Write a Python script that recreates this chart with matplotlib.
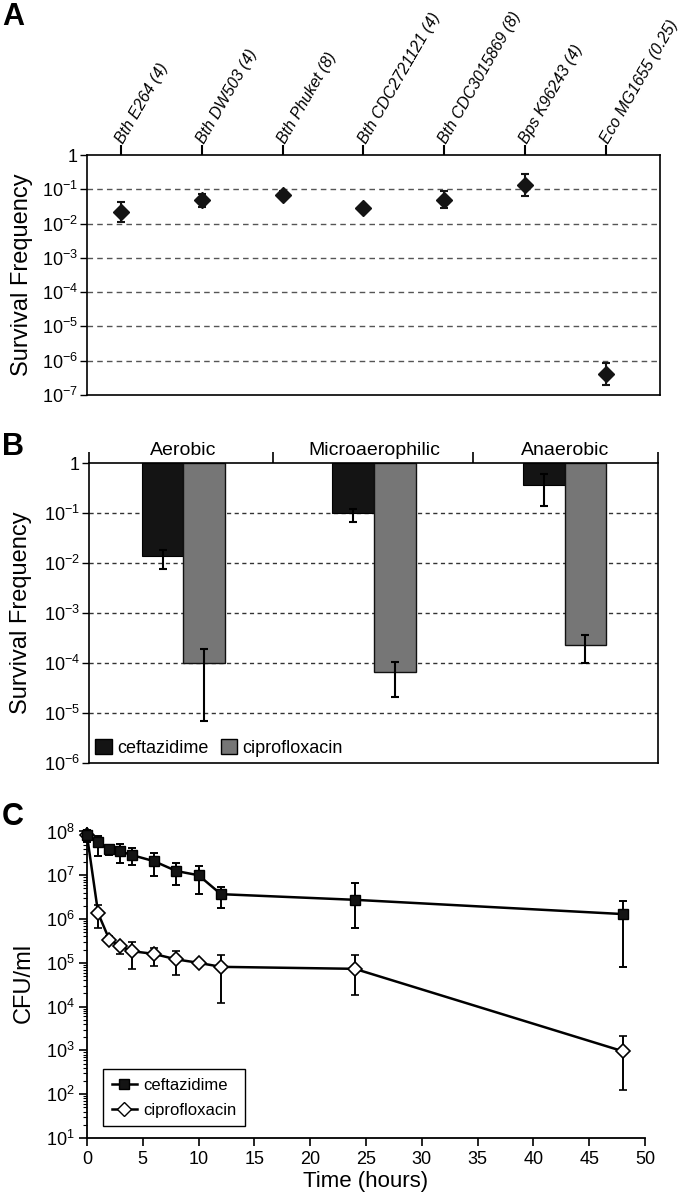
import matplotlib
matplotlib.use('Agg')
import matplotlib.pyplot as plt
import numpy as np
from matplotlib.patches import Patch
from matplotlib.lines import Line2D
from matplotlib.ticker import NullLocator, LogLocator
from matplotlib import font_manager as fm


def has_font(name):
    try:
        fm.findfont(fm.FontProperties(family=name), fallback_to_default=False)
        return True
    except Exception:
        return False


BASE = 'Liberation Sans' if has_font('Liberation Sans') else 'DejaVu Sans'
NARROW = 'Liberation Sans Narrow' if has_font('Liberation Sans Narrow') else None
plt.rcParams['font.family'] = [BASE, 'DejaVu Sans']
plt.rcParams['mathtext.fontset'] = 'custom'
plt.rcParams['mathtext.rm'] = BASE
plt.rcParams['mathtext.it'] = BASE + ':italic'
plt.rcParams['mathtext.bf'] = BASE + ':bold'

# ---------------- Panel A data ----------------
strains = ['Bth E264 (4)', 'Bth DW503 (4)', 'Bth Phuket (8)', 'Bth CDC2721121 (4)',
           'Bth CDC3015869 (8)', 'Bps K96243 (4)', 'Eco MG1655 (0.25)']
surv_mean = [0.022, 0.049, 0.070, 0.028, 0.049, 0.137, 4.1e-7]
surv_low = [0.011, 0.031, 0.056, 0.025, 0.028, 0.063, 1.96e-7]
surv_high = [0.044, 0.073, 0.091, 0.032, 0.087, 0.28, 8.5e-7]
a_ticklabels = ['1', r'$10^{-1}$', r'$10^{-2}$', r'$10^{-3}$', r'$10^{-4}$',
                r'$10^{-5}$', r'$10^{-6}$', r'$10^{-7}$']

# ---------------- Panel B data ----------------
conditions = ['Aerobic', 'Microaerophilic', 'Anaerobic']
caz_surv = [0.0135, 0.10, 0.37]
caz_low = [0.0077, 0.065, 0.14]
caz_high = [0.0186, 0.12, 0.61]
cip_surv = [1.0e-4, 6.5e-5, 2.3e-4]
cip_low = [7.0e-6, 2.1e-5, 1.0e-4]
cip_high = [1.9e-4, 1.03e-4, 3.6e-4]
b_ticklabels = ['1', r'$10^{-1}$', r'$10^{-2}$', r'$10^{-3}$', r'$10^{-4}$',
                r'$10^{-5}$', r'$10^{-6}$']

# ---------------- Panel C data ----------------
time_h = [0, 1, 2, 3, 4, 6, 8, 10, 12, 24, 48]
caz_cfu = [8.1e7, 5.6e7, 4.0e7, 3.5e7, 2.9e7, 2.1e7, 1.25e7, 1.0e7, 3.7e6, 2.75e6, 1.3e6]
caz_cfu_low = [5.6e7, 2.7e7, 2.9e7, 1.9e7, 1.75e7, 9.8e6, 5.9e6, 3.8e6, 1.8e6, 6.3e5, 8.0e4]
caz_cfu_high = [1.1e8, 7.8e7, 5.0e7, 5.3e7, 4.1e7, 3.2e7, 1.95e7, 1.6e7, 5.3e6, 6.6e6, 2.6e6]
cip_cfu = [8.1e7, 1.35e6, 3.4e5, 2.4e5, 1.85e5, 1.6e5, 1.2e5, 1.0e5, 8.1e4, 7.3e4, 9.6e2]
cip_cfu_low = [8.1e7, 6.1e5, 2.9e5, 1.6e5, 7.4e4, 8.4e4, 5.2e4, 8.5e4, 1.2e4, 1.8e4, 1.25e2]
cip_cfu_high = [8.1e7, 2.1e6, 4.0e5, 2.9e5, 3.0e5, 2.2e5, 1.9e5, 1.15e5, 1.5e5, 1.5e5, 2.1e3]
c_ticks = [1e1, 1e2, 1e3, 1e4, 1e5, 1e6, 1e7, 1e8]
c_ticklabels = [r'$10^{1}$', r'$10^{2}$', r'$10^{3}$', r'$10^{4}$', r'$10^{5}$',
                r'$10^{6}$', r'$10^{7}$', r'$10^{8}$']
x_ticks_c = [0, 5, 10, 15, 20, 25, 30, 35, 40, 45, 50]

BLACK = '#141414'
GRAY = '#767676'

fig = plt.figure(figsize=(6.8, 11.98), dpi=100)
H = 1198.0
W = 680.0

# ================= Panel A =================
axA = fig.add_axes([87 / W, 1 - 395 / H, (660 - 87) / W, (395 - 155) / H])
axA.set_yscale('log')
axA.set_ylim(1e-7, 1)
axA.set_xlim(-0.42, 6.67)
xa = np.arange(len(strains))
m = np.array(surv_mean)
yerrA = [m - np.array(surv_low), np.array(surv_high) - m]
for v in [1e-1, 1e-2, 1e-3, 1e-4, 1e-5, 1e-6]:
    axA.axhline(v, color='#555555', ls=(0, (4, 3)), lw=1.0, zorder=1)
axA.errorbar(xa, surv_mean, yerr=yerrA, fmt='D', color=BLACK, ms=8, capsize=3,
             elinewidth=1.5, capthick=1.5, zorder=3)
axA.set_yticks([10.0 ** (-k) for k in range(8)])
axA.set_yticklabels(a_ticklabels)
axA.yaxis.set_minor_locator(NullLocator())
axA.xaxis.tick_top()
axA.set_xticks(xa)
axA.set_xticklabels([])
axA.tick_params(axis='x', which='both', direction='out', length=7, width=1.5,
                top=True, bottom=False)
axA.tick_params(axis='y', direction='out', length=5, width=1.0, labelsize=13, pad=1.5)
for s in axA.spines.values():
    s.set_linewidth(1.2)
if NARROW:
    lab_kw = dict(family=[NARROW, BASE], fontsize=14, style='italic')
else:
    lab_kw = dict(fontsize=11.5, style='italic')
for i, s in enumerate(strains):
    axA.annotate(s, xy=(i, 1), xycoords=('data', 'axes fraction'), xytext=(-1, 9.5),
                 textcoords='offset points', rotation=60, rotation_mode='anchor',
                 ha='left', va='center', **lab_kw)
axA.set_ylabel('Survival Frequency', fontsize=17)
axA.yaxis.set_label_coords(-0.094, 0.5)

# ================= Panel B =================
axB = fig.add_axes([89 / W, 1 - 763 / H, (658 - 89) / W, (763 - 463) / H])
axB.set_yscale('log')
axB.set_ylim(1e-6, 1)
axB.set_xlim(-0.495, 2.49)
xb = np.arange(len(conditions))
wb = 0.218
for v in [1e-1, 1e-2, 1e-3, 1e-4, 1e-5]:
    axB.axhline(v, color='#333333', ls=(0, (3, 2.5)), lw=1.0, zorder=1)
caz = np.array(caz_surv)
cip = np.array(cip_surv)
axB.bar(xb - wb / 2, 1 - caz, bottom=caz, width=wb, color=BLACK, edgecolor='#000000',
        lw=0.8, zorder=2)
axB.bar(xb + wb / 2, 1 - cip, bottom=cip, width=wb, color=GRAY, edgecolor='#111111',
        lw=1.0, zorder=2)
axB.errorbar(xb - wb / 2, caz, yerr=[caz - np.array(caz_low), np.array(caz_high) - caz],
             fmt='none', ecolor='black', capsize=3, elinewidth=1.5, capthick=1.5, zorder=3)
axB.errorbar(xb + wb / 2, cip, yerr=[cip - np.array(cip_low), np.array(cip_high) - cip],
             fmt='none', ecolor='black', capsize=3, elinewidth=1.5, capthick=1.5, zorder=3)
axB.set_yticks([10.0 ** (-k) for k in range(7)])
axB.set_yticklabels(b_ticklabels)
axB.yaxis.set_minor_locator(NullLocator())
axB.xaxis.tick_top()
axB.set_xticks([-0.495, 0.47, 1.52, 2.49])
axB.set_xticklabels([])
axB.tick_params(axis='x', direction='out', length=8, width=1.2, top=True, bottom=False)
axB.tick_params(axis='y', direction='out', length=5, width=1.0, labelsize=13, pad=1.5)
for s in axB.spines.values():
    s.set_linewidth(1.2)
for i, c in enumerate(conditions):
    axB.annotate(c, xy=(i, 1), xycoords=('data', 'axes fraction'), xytext=(0, 6),
                 textcoords='offset points', ha='center', va='baseline', fontsize=14)
axB.set_ylabel('Survival Frequency', fontsize=17)
axB.yaxis.set_label_coords(-0.10, 0.5)
legB = axB.legend(handles=[Patch(facecolor=BLACK, edgecolor='black', label='ceftazidime'),
                           Patch(facecolor=GRAY, edgecolor='black', label='ciprofloxacin')],
                  loc='lower left', ncol=2, frameon=False, fontsize=13, handlelength=0.9,
                  handleheight=0.9, handletextpad=0.3, columnspacing=0.7,
                  borderaxespad=0.15, borderpad=0.2)

# ================= Panel C =================
axC = fig.add_axes([87 / W, 1 - 1138 / H, (645 - 87) / W, (1138 - 828) / H])
axC.set_yscale('log')
axC.set_ylim(10, 1.2e8)
axC.set_xlim(0, 50)
cc = np.array(cip_cfu)
axC.errorbar(time_h, cip_cfu, yerr=[cc - np.array(cip_cfu_low), np.array(cip_cfu_high) - cc],
             fmt='-D', color='black', mfc='white', mec='black', mew=1.2, ms=7, lw=1.8,
             capsize=3, elinewidth=1.4, capthick=1.4, clip_on=False, zorder=3)
ca = np.array(caz_cfu)
axC.errorbar(time_h, caz_cfu, yerr=[ca - np.array(caz_cfu_low), np.array(caz_cfu_high) - ca],
             fmt='-s', color='black', mfc=BLACK, mec='black', ms=7, lw=1.8,
             capsize=3, elinewidth=1.4, capthick=1.4, clip_on=False, zorder=4)
axC.spines['top'].set_visible(False)
axC.spines['right'].set_visible(False)
for s in ['left', 'bottom']:
    axC.spines[s].set_linewidth(1.3)
axC.set_yticks(c_ticks)
axC.set_yticklabels(c_ticklabels)
axC.yaxis.set_minor_locator(LogLocator(base=10, subs=np.arange(2, 10)))
axC.yaxis.set_minor_formatter(matplotlib.ticker.NullFormatter())
axC.set_xticks(x_ticks_c)
axC.set_xticklabels([str(t) for t in x_ticks_c])
axC.tick_params(axis='both', which='major', direction='out', length=6, width=1.2,
                labelsize=13, pad=3)
axC.tick_params(axis='y', which='minor', direction='out', length=3, width=0.8)
axC.set_ylabel('CFU/ml', fontsize=17)
axC.yaxis.set_label_coords(-0.093, 0.5)
axC.set_xlabel('Time (hours)', fontsize=16)
axC.xaxis.set_label_coords(0.5, -0.105)
legC = axC.legend(handles=[Line2D([], [], color='black', marker='s', mfc=BLACK, ms=7, lw=1.8,
                                  label='ceftazidime'),
                           Line2D([], [], color='black', marker='D', mfc='white', mec='black',
                                  ms=7, lw=1.8, label='ciprofloxacin')],
                  loc='lower left', bbox_to_anchor=(0.029, 0.039), borderaxespad=0,
                  fontsize=12, fancybox=False, framealpha=1, edgecolor='black',
                  handlelength=1.5, handletextpad=0.4, borderpad=0.5, labelspacing=0.6)
legC.get_frame().set_linewidth(1.0)

# Panel letters
fig.text(2 / W, 1 - 25 / H, 'A', fontsize=22, fontweight='bold', va='baseline', ha='left')
fig.text(2 / W, 1 - 455 / H, 'B', fontsize=22, fontweight='bold', va='baseline', ha='left')
fig.text(2 / W, 1 - 825 / H, 'C', fontsize=22, fontweight='bold', va='baseline', ha='left')

fig.savefig('out.png', dpi=100)
